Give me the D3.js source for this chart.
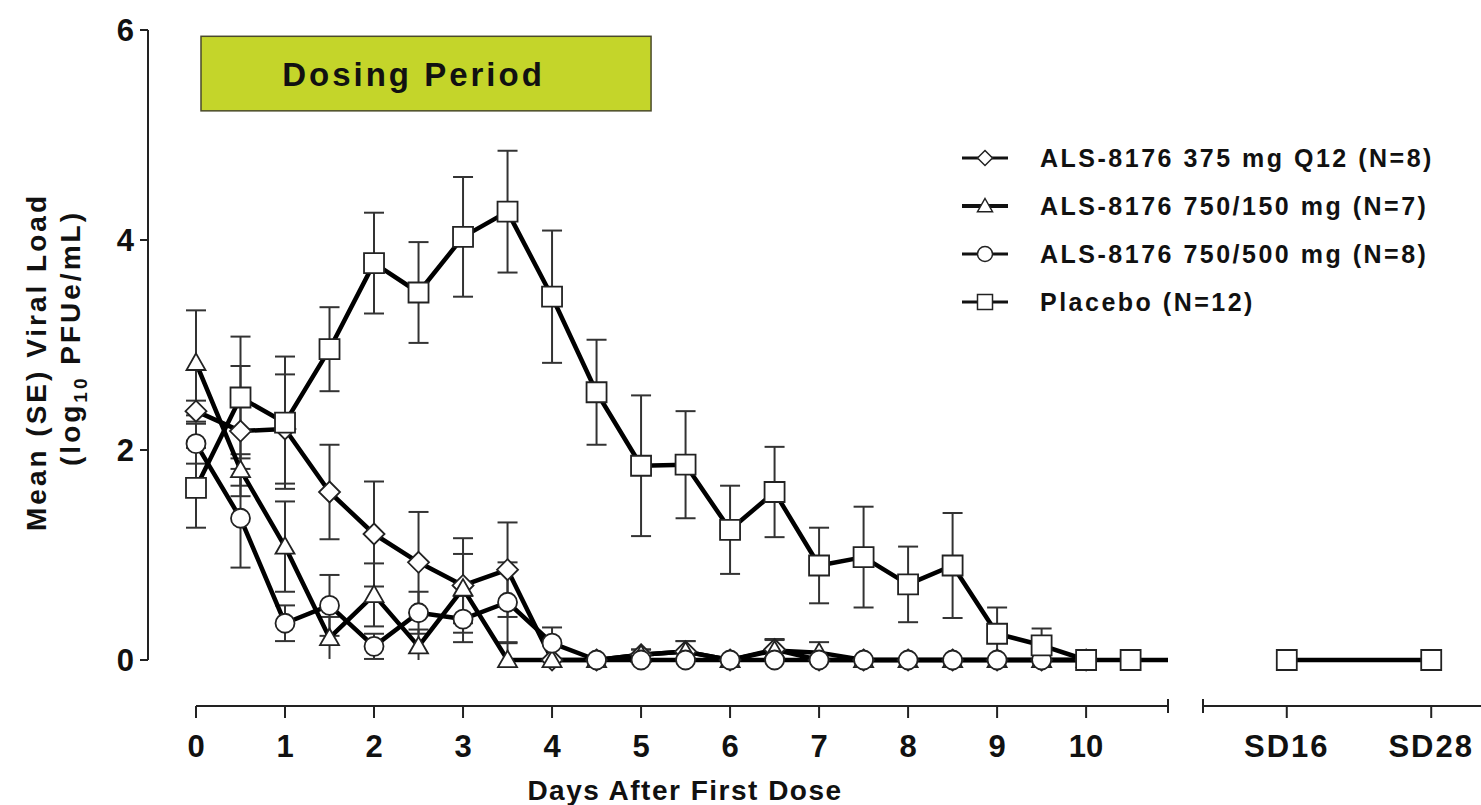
<!DOCTYPE html>
<html>
  <head>
    <meta charset="utf-8" />
    <title>Viral load</title>
    <script src="https://d3js.org/d3.v7.min.js"></script>
    <style>
      body { margin: 0; background: #fff; }
      text { font-family: Arial, "Liberation Sans", sans-serif; font-weight: bold; fill: #111; }
    </style>
  </head>
  <body>
    <svg width="1481" height="805"></svg>

    <script>
      // Data
      var days = [0, 0.5, 1, 1.5, 2, 2.5, 3, 3.5, 4, 4.5, 5, 5.5, 6, 6.5, 7, 7.5, 8, 8.5, 9, 9.5, 10];
      var placeboDays = [0, 0.5, 1, 1.5, 2, 2.5, 3, 3.5, 4, 4.5, 5, 5.5, 6, 6.5, 7, 7.5, 8, 8.5, 9, 9.5, 10, 10.5];

      var dose375 = [2.37, 2.18, 2.2, 1.6, 1.2, 0.93, 0.71, 0.86, 0, 0, 0.05, 0.08, 0, 0.1, 0, 0, 0, 0, 0, 0, 0];
      var se375   = [0.1, 0.62, 0.52, 0.45, 0.5, 0.48, 0.45, 0.45, 0, 0, 0.05, 0.1, 0, 0.1, 0, 0, 0, 0, 0, 0, 0];

      var dose150 = [2.83, 1.81, 1.08, 0.21, 0.62, 0.13, 0.68, 0, 0, 0, 0.05, 0.08, 0, 0.09, 0.07, 0, 0, 0, 0, 0, 0];
      var se150   = [0.5, 0.15, 0.43, 0.2, 0.3, 0.16, 0.33, 0.16, 0, 0, 0.05, 0.1, 0, 0.1, 0.1, 0, 0, 0, 0, 0, 0];

      var dose500 = [2.06, 1.35, 0.35, 0.52, 0.13, 0.45, 0.39, 0.55, 0.16, 0, 0, 0, 0, 0, 0, 0, 0, 0, 0, 0, 0];
      var se500   = [0.19, 0.47, 0.17, 0.29, 0.12, 0.2, 0.22, 0.38, 0.15, 0, 0, 0, 0, 0, 0, 0, 0, 0, 0, 0, 0];

      var placebo   = [1.64, 2.5, 2.26, 2.96, 3.78, 3.5, 4.03, 4.27, 3.46, 2.55, 1.85, 1.86, 1.24, 1.6, 0.9, 0.98, 0.72, 0.9, 0.25, 0.14, 0, 0];
      var sePlacebo = [0.38, 0.58, 0.63, 0.4, 0.48, 0.48, 0.57, 0.58, 0.63, 0.5, 0.67, 0.51, 0.42, 0.43, 0.36, 0.48, 0.36, 0.5, 0.25, 0.16, 0, 0];

      var sdLabels = ["SD16", "SD28"];
      var placeboSD = [0, 0];

      var xTicks = [0, 1, 2, 3, 4, 5, 6, 7, 8, 9, 10];
      var yTicks = [0, 2, 4, 6];
      var dosingPeriod = [0, 5];

      var seriesNames = [
        "ALS-8176 375 mg Q12 (N=8)",
        "ALS-8176 750/150 mg (N=7)",
        "ALS-8176 750/500 mg (N=8)",
        "Placebo (N=12)"
      ];

      var svg = d3.select("svg");

      // scales: first panel is days 0-~11, second panel holds the SD points
      var x = d3.scaleLinear().domain([0, 10.92]).range([196, 1168]);
      var xSD = d3.scalePoint().domain(sdLabels).range([1203, 1515]).padding(0.58);
      var y = d3.scaleLinear().domain([0, 6]).range([660, 30]);

      // marker shapes
      function shape(kind, r) {
        if (kind === "diamond") return "M0," + (-r) + "L" + r + ",0L0," + r + "L" + (-r) + ",0Z";
        if (kind === "triangle") return "M0," + (-r) + "L" + r + "," + (r * 0.75) + "L" + (-r) + "," + (r * 0.75) + "Z";
        if (kind === "circle") return d3.symbol(d3.symbolCircle, Math.PI * r * r)();
        return "M" + (-r) + "," + (-r) + "H" + r + "V" + r + "H" + (-r) + "Z";
      }

      function pts(xs, vals, ses) {
        return xs.map(function (d, i) { return { d: d, v: vals[i], se: ses[i] }; });
      }

      var series = [
        { name: seriesNames[0], kind: "diamond", r: 10.5, pts: pts(days, dose375, se375) },
        { name: seriesNames[1], kind: "triangle", r: 9.5, pts: pts(days, dose150, se150) },
        { name: seriesNames[2], kind: "circle", r: 9.5, pts: pts(days, dose500, se500) },
        { name: seriesNames[3], kind: "square", r: 10, pts: pts(placeboDays, placebo, sePlacebo) }
      ];

      // Dosing period box
      svg.append("rect")
        .attr("x", x(dosingPeriod[0]) + 5)
        .attr("y", y(5.94))
        .attr("width", x(dosingPeriod[1]) - x(dosingPeriod[0]) + 5)
        .attr("height", y(5.23) - y(5.94))
        .attr("fill", "#c4d52a")
        .attr("stroke", "#4a4a2a")
        .attr("stroke-width", 1.5);

      svg.append("text")
        .attr("x", (x(dosingPeriod[0]) + x(dosingPeriod[1])) / 2 - 5)
        .attr("y", y(5.58) + 12)
        .attr("text-anchor", "middle")
        .style("font-size", "33px")
        .style("letter-spacing", "3px")
        .text("Dosing Period");

      // y axis
      var yAxis = svg.append("g").attr("transform", "translate(148,0)");
      yAxis.append("line").attr("y1", y(6)).attr("y2", y(0)).attr("stroke", "#222").attr("stroke-width", 2);
      yAxis.selectAll(".yt").data(yTicks).enter().append("line")
        .attr("x1", -8).attr("x2", 0)
        .attr("y1", function (d) { return y(d); }).attr("y2", function (d) { return y(d); })
        .attr("stroke", "#222").attr("stroke-width", 2);
      yAxis.selectAll(".yl").data(yTicks).enter().append("text")
        .attr("x", -14)
        .attr("y", function (d) { return y(d) + 11; })
        .attr("text-anchor", "end")
        .style("font-size", "31px")
        .text(function (d) { return d; });

      // y title, two lines
      svg.append("text")
        .attr("transform", "translate(46,362) rotate(-90)")
        .attr("text-anchor", "middle")
        .style("font-size", "28px")
        .style("letter-spacing", "3px")
        .text("Mean (SE) Viral Load");
      var t2 = svg.append("text")
        .attr("transform", "translate(80,338) rotate(-90)")
        .attr("text-anchor", "middle")
        .style("font-size", "28px")
        .style("letter-spacing", "3px");
      t2.append("tspan").text("(log");
      t2.append("tspan").attr("dy", 7).style("font-size", "19px").text("10");
      t2.append("tspan").attr("dy", -7).text(" PFUe/mL)");

      // x axis, first panel
      var axY = 706;
      var xa = svg.append("g");
      xa.append("line").attr("x1", x(0)).attr("x2", x.range()[1]).attr("y1", axY).attr("y2", axY)
        .attr("stroke", "#222").attr("stroke-width", 2);
      xa.selectAll(".xt").data(xTicks).enter().append("line")
        .attr("x1", function (d) { return x(d); }).attr("x2", function (d) { return x(d); })
        .attr("y1", axY).attr("y2", axY + 12)
        .attr("stroke", "#222").attr("stroke-width", 2);
      xa.append("line").attr("x1", x.range()[1]).attr("x2", x.range()[1]).attr("y1", axY - 7).attr("y2", axY + 7)
        .attr("stroke", "#222").attr("stroke-width", 2);
      xa.selectAll(".xl").data(xTicks).enter().append("text")
        .attr("x", function (d) { return x(d); })
        .attr("y", axY + 51)
        .attr("text-anchor", "middle")
        .style("font-size", "31px")
        .text(function (d) { return d; });

      // x axis, second panel
      var xb = svg.append("g");
      xb.append("line").attr("x1", xSD.range()[0]).attr("x2", 1481).attr("y1", axY).attr("y2", axY)
        .attr("stroke", "#222").attr("stroke-width", 2);
      xb.append("line").attr("x1", xSD.range()[0]).attr("x2", xSD.range()[0]).attr("y1", axY - 7).attr("y2", axY + 7)
        .attr("stroke", "#222").attr("stroke-width", 2);
      xb.selectAll(".st").data(sdLabels).enter().append("line")
        .attr("x1", function (d) { return xSD(d); }).attr("x2", function (d) { return xSD(d); })
        .attr("y1", axY).attr("y2", axY + 12)
        .attr("stroke", "#222").attr("stroke-width", 2);
      xb.selectAll(".sl").data(sdLabels).enter().append("text")
        .attr("x", function (d) { return xSD(d); })
        .attr("y", axY + 51)
        .attr("text-anchor", "middle")
        .style("font-size", "31px")
        .style("letter-spacing", "2px")
        .text(function (d) { return d; });

      svg.append("text")
        .attr("x", 685).attr("y", 800)
        .attr("text-anchor", "middle")
        .style("font-size", "28px")
        .style("letter-spacing", "1.5px")
        .text("Days After First Dose");

      // error bars
      var capW = 10;
      series.forEach(function (s) {
        var g = svg.append("g").attr("stroke", "#333").attr("stroke-width", 2).attr("fill", "none");
        var e = s.pts.filter(function (p) { return p.se > 0; });
        g.selectAll(".v").data(e).enter().append("line")
          .attr("x1", function (p) { return x(p.d); }).attr("x2", function (p) { return x(p.d); })
          .attr("y1", function (p) { return y(p.v + p.se); })
          .attr("y2", function (p) { return y(Math.max(0, p.v - p.se)); });
        g.selectAll(".u").data(e).enter().append("line")
          .attr("x1", function (p) { return x(p.d) - capW; }).attr("x2", function (p) { return x(p.d) + capW; })
          .attr("y1", function (p) { return y(p.v + p.se); }).attr("y2", function (p) { return y(p.v + p.se); });
        g.selectAll(".l").data(e.filter(function (p) { return p.v - p.se > 0.01; })).enter().append("line")
          .attr("x1", function (p) { return x(p.d) - capW; }).attr("x2", function (p) { return x(p.d) + capW; })
          .attr("y1", function (p) { return y(p.v - p.se); }).attr("y2", function (p) { return y(p.v - p.se); });
      });

      // lines
      var line = d3.line().x(function (p) { return x(p.d); }).y(function (p) { return y(p.v); });
      series.forEach(function (s, i) {
        var p = s.pts.slice();
        // placebo runs on into the axis break
        if (i === 3) p.push({ d: x.domain()[1], v: p[p.length - 1].v });
        svg.append("path").datum(p)
          .attr("d", line)
          .attr("fill", "none").attr("stroke", "#000").attr("stroke-width", 4.5).attr("stroke-linejoin", "round");
      });
      svg.append("line")
        .attr("x1", xSD(sdLabels[0])).attr("x2", xSD(sdLabels[1]))
        .attr("y1", y(placeboSD[0])).attr("y2", y(placeboSD[1]))
        .attr("stroke", "#000").attr("stroke-width", 4.5);

      // markers
      series.forEach(function (s) {
        svg.append("g").selectAll("path").data(s.pts).enter().append("path")
          .attr("transform", function (p) { return "translate(" + x(p.d) + "," + y(p.v) + ")"; })
          .attr("d", shape(s.kind, s.r))
          .attr("fill", "#fff").attr("stroke", "#222").attr("stroke-width", 1.8);
      });
      svg.append("g").selectAll("path").data(sdLabels).enter().append("path")
        .attr("transform", function (d, i) { return "translate(" + xSD(d) + "," + y(placeboSD[i]) + ")"; })
        .attr("d", shape("square", 10))
        .attr("fill", "#fff").attr("stroke", "#222").attr("stroke-width", 1.8);

      // legend
      var legY = [158, 206, 254, 302];
      var leg = svg.append("g");
      series.forEach(function (s, i) {
        var gy = legY[i];
        leg.append("line").attr("x1", 962).attr("x2", 1008).attr("y1", gy).attr("y2", gy)
          .attr("stroke", "#111").attr("stroke-width", i === 1 ? 4 : 3);
        leg.append("path").attr("transform", "translate(985," + gy + ")")
          .attr("d", shape(s.kind, 7.5))
          .attr("fill", "#fff").attr("stroke", "#222").attr("stroke-width", 1.5);
        leg.append("text").attr("x", 1040).attr("y", gy + 9)
          .style("font-size", "25px")
          .style("letter-spacing", "2.5px")
          .text(s.name);
      });
    </script>
  </body>
</html>
